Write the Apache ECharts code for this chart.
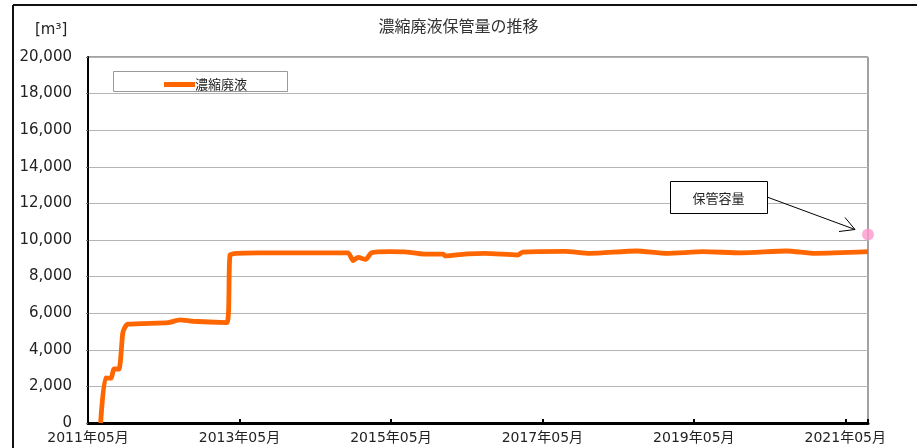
<!DOCTYPE html>
<html>
<head>
<meta charset="utf-8">
<script src="https://cdn.jsdelivr.net/npm/echarts@6/dist/echarts.min.js"></script>
<style>
	html, body { margin: 0; padding: 0; background: #fff; }
	#main { width: 917px; height: 448px; }
</style>
</head>
<body>
<div id="main"></div>
<script>
var startMonth = '2011-05-01';
var dates = ['2011-07-01', '2011-07-24', '2011-08-21', '2011-09-04', '2011-09-28', '2011-10-16', '2011-10-25', '2011-11-10',
	'2012-05-22', '2012-07-19', '2012-09-19', '2013-03-01', '2013-03-16', '2013-04-16', '2013-08-01',
	'2014-10-07', '2014-11-01', '2014-11-25', '2015-01-01', '2015-01-29', '2015-04-25', '2015-07-19', '2015-10-07',
	'2016-01-10', '2016-01-19', '2016-05-07', '2016-07-28', '2017-01-04', '2017-01-28', '2017-08-19', '2017-12-16',
	'2018-07-28', '2018-12-22', '2019-06-16', '2019-12-16', '2020-07-22', '2020-12-07', '2021-08-19'];
var stored = [0, 2460, 2450, 2950, 2950, 4900, 5200, 5400,
	5480, 5630, 5560, 5480, 9180, 9270, 9300,
	9300, 8870, 9050, 8940, 9300, 9360, 9340, 9230,
	9230, 9130, 9240, 9270, 9180, 9340, 9380, 9270,
	9400, 9270, 9360, 9300, 9400, 9270, 9360];
var capacityDate = '2021-08-19';
var capacity = 10300;
var yTicks = [0, 20000, 2000];

var font = '"Noto Sans CJK JP", sans-serif';
var numFont = '"DejaVu Sans", "Noto Sans CJK JP", sans-serif';

// months counted from May 2011
function toMonth(s) {
	var p = s.split('-').map(Number);
	var b = startMonth.split('-').map(Number);
	return (p[0] - b[0]) * 12 + (p[1] - b[1]) + (p[2] - 1) / 30;
}
function monthLabel(m) {
	var b = startMonth.split('-').map(Number);
	var t = b[0] * 12 + (b[1] - 1) + Math.round(m);
	var y = Math.floor(t / 12), mo = t % 12 + 1;
	return y + '年' + (mo < 10 ? '0' + mo : mo) + '月';
}
function commas(v) {
	return String(v).replace(/\B(?=(\d{3})+(?!\d))/g, ',');
}

var lineData = dates.map(function(d, i) { return [toMonth(d), stored[i]]; });
var xMax = toMonth(dates[dates.length - 1]);

var myChart = echarts.init(document.getElementById('main'));
var option = {
	backgroundColor: '#fff',
	animation: false,
	textStyle: { fontFamily: font },
	title: {
		text: '濃縮廃液保管量の推移',
		left: 'center',
		top: 13,
		textStyle: { fontSize: 16, fontWeight: 'normal', color: '#333', fontFamily: font }
	},
	legend: {
		left: 159,
		top: 73,
		data: ['濃縮廃液'],
		icon: 'rect',
		itemWidth: 31,
		itemHeight: 5,
		itemGap: 4,
		textStyle: { fontSize: 13, color: '#222', fontFamily: font, padding: [0, 0, 0, -5] }
	},
	grid: {
		left: 88,
		right: 49,
		top: 57,
		bottom: 25,
		show: true,
		borderColor: '#444',
		borderWidth: 1
	},
	xAxis: {
		type: 'value',
		min: 0,
		max: xMax,
		interval: 24,
		axisLine: { lineStyle: { color: '#000', width: 3 } },
		axisTick: { inside: true, length: 4, lineStyle: { color: '#000', width: 2 } },
		splitLine: { show: false },
		axisLabel: {
			fontSize: 14,
			color: '#222',
			margin: 8,
			fontFamily: numFont,
			formatter: function(v) {
				return Math.abs(v % 24) < 1e-6 ? monthLabel(v) : '';
			}
		}
	},
	yAxis: {
		type: 'value',
		min: yTicks[0],
		max: yTicks[1],
		interval: yTicks[2],
		axisLine: { show: true, lineStyle: { color: '#000', width: 2 } },
		axisTick: { show: true, length: 2, lineStyle: { color: '#777' } },
		splitLine: { lineStyle: { color: '#b4b4b4', width: 1 } },
		axisLabel: {
			fontSize: 15,
			color: '#222',
			margin: 16,
			fontFamily: numFont,
			formatter: commas
		}
	},
	series: [{
		name: '濃縮廃液',
		type: 'line',
		data: lineData,
		smooth: 0.2,
		showSymbol: false,
		lineStyle: { color: '#ff6600', width: 4.8 },
		itemStyle: { color: '#ff6600' }
	}, {
		name: '保管容量',
		type: 'scatter',
		data: [[toMonth(capacityDate), capacity]],
		symbolSize: 12,
		itemStyle: { color: '#ff99cc' },
		z: 5
	}],
	graphic: []
};
myChart.setOption(option);

// frame, legend box and the callout, placed after the scales exist
var dot = myChart.convertToPixel({ gridIndex: 0 }, [toMonth(capacityDate), capacity]);
var tip = [dot[0] - 13, dot[1] - 5];
var box = { x: 670, y: 181, w: 97, h: 32 };
myChart.setOption({
	graphic: [
		{ type: 'line', shape: { x1: 13, y1: 5, x2: 917, y2: 5 }, style: { stroke: '#111', lineWidth: 2 } },
		{ type: 'line', shape: { x1: 13, y1: 5, x2: 13, y2: 448 }, style: { stroke: '#111', lineWidth: 2 } },
		{ type: 'rect', shape: { x: 113.5, y: 71.5, width: 174, height: 20 }, style: { fill: 'none', stroke: '#999', lineWidth: 1 }, z: 100 },
		{ type: 'text', left: 35, top: 23, style: { text: '[m³]', font: '15px ' + numFont, fill: '#222' } },
		{ type: 'line', shape: { x1: box.x + box.w, y1: box.y + 16, x2: tip[0], y2: tip[1] }, style: { stroke: '#000', lineWidth: 1 }, z: 100 },
		{ type: 'polyline', shape: { points: [[tip[0] - 10, tip[1] - 12], tip, [tip[0] - 16, tip[1] + 2]] }, style: { stroke: '#000', fill: 'none', lineWidth: 1 }, z: 100 },
		{ type: 'rect', shape: { x: box.x + 0.5, y: box.y + 0.5, width: box.w, height: box.h }, style: { fill: '#fff', stroke: '#000', lineWidth: 1 }, z: 100 },
		{ type: 'text', x: box.x + box.w / 2, y: box.y + box.h / 2 + 1, style: { text: '保管容量', font: '13px ' + font, fill: '#222', align: 'center', verticalAlign: 'middle' }, z: 101 }
	]
});
</script>
</body>
</html>
